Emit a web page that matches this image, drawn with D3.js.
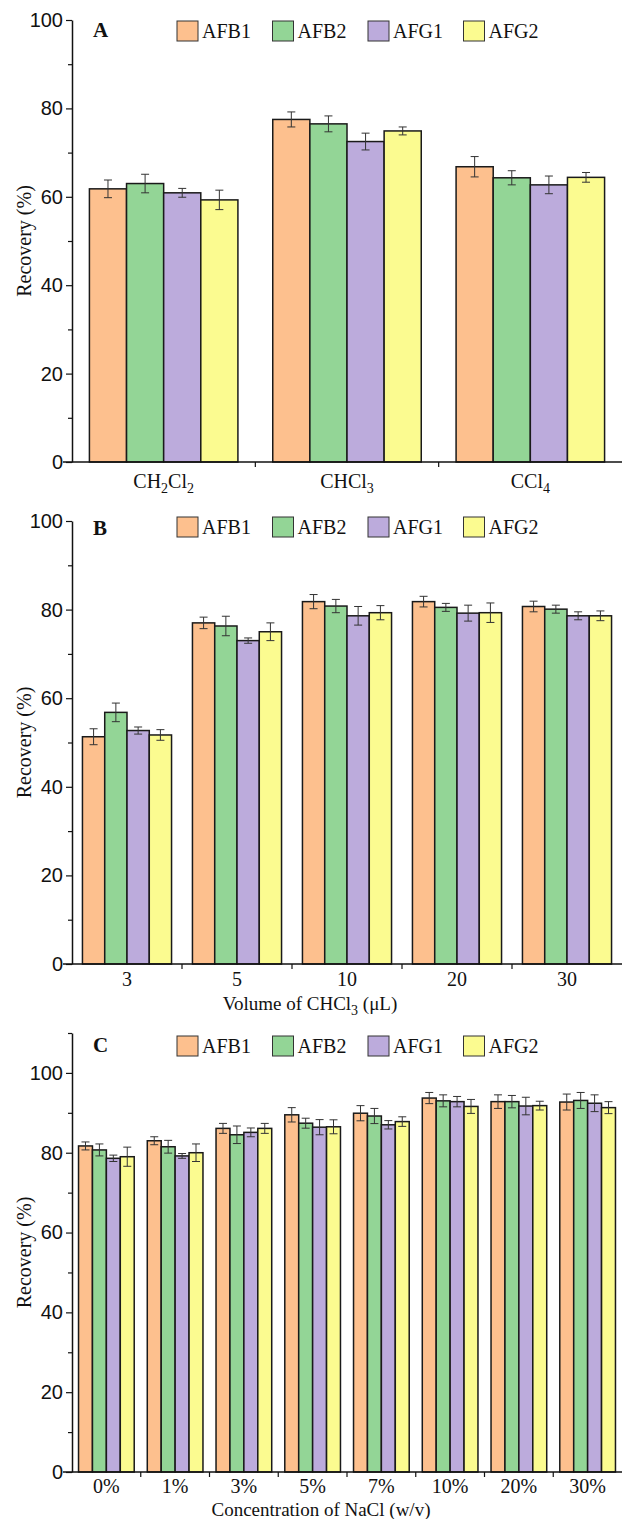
<!DOCTYPE html>
<html>
<head>
<meta charset="utf-8">
<script src="https://cdn.jsdelivr.net/npm/d3@7"></script>
<style>
  body { margin: 0; background: #fff; }
  svg { display: block; font-family: 'Liberation Serif', 'Times New Roman', serif; }
</style>
</head>
<body>
<svg id="chart" width="622" height="1519"></svg>
<script>
/* global d3 */
const series = ['AFB1', 'AFB2', 'AFG1', 'AFG2']
const colors = ['#fdc08e', '#93d596', '#bcabdc', '#fbfb90']

// Panel A: extraction solvent
const solvents = ['CH2Cl2', 'CHCl3', 'CCl4']
const solventMeans = [
  [61.8, 77.5, 66.8],
  [63.0, 76.5, 64.3],
  [60.9, 72.5, 62.7],
  [59.3, 74.9, 64.4]
]
const solventErrors = [
  [2.0, 1.7, 2.3],
  [2.1, 1.8, 1.6],
  [1.0, 1.9, 2.0],
  [2.2, 0.9, 1.1]
]

// Panel B: volume of CHCl3
const volumes = ['3', '5', '10', '20', '30']
const volumeMeans = [
  [51.3, 77.0, 81.8, 81.8, 80.7],
  [56.8, 76.3, 80.8, 80.5, 80.1],
  [52.7, 73.0, 78.6, 79.2, 78.6],
  [51.7, 75.0, 79.3, 79.3, 78.6]
]
const volumeErrors = [
  [1.8, 1.3, 1.6, 1.2, 1.2],
  [2.1, 2.2, 1.5, 0.9, 0.9],
  [0.8, 0.6, 2.1, 1.8, 0.9],
  [1.2, 2.0, 1.6, 2.2, 1.1]
]

// Panel C: NaCl concentration
const salts = ['0%', '1%', '3%', '5%', '7%', '10%', '20%', '30%']
const saltMeans = [
  [81.7, 83.0, 86.1, 89.5, 89.9, 93.7, 92.8, 92.7],
  [80.7, 81.5, 84.5, 87.4, 89.2, 93.0, 92.8, 93.1],
  [78.6, 79.2, 85.1, 86.4, 87.0, 92.8, 91.7, 92.4],
  [79.0, 80.0, 86.1, 86.5, 87.8, 91.6, 91.8, 91.3]
]
const saltErrors = [
  [1.0, 1.0, 1.25, 1.8, 1.9, 1.4, 1.7, 2.0],
  [1.5, 1.6, 2.2, 1.25, 1.9, 1.5, 1.55, 2.0],
  [0.8, 0.6, 1.1, 1.9, 1.05, 1.3, 2.2, 2.1],
  [2.4, 2.2, 1.25, 1.75, 1.2, 1.75, 1.1, 1.5]
]

const svg = d3.select('#chart')
const left = 72
const right = 622

// write a label, putting digits of a formula into subscripts
function formula (sel, str, chem) {
  sel.text(null)
  if (!chem) { sel.text(str); return }
  const parts = str.match(/\d+|[^\d]+/g)
  let sub = false
  parts.forEach(p => {
    const isNum = /^\d+$/.test(p)
    const t = sel.append('tspan').text(p)
    if (isNum && !sub) { t.attr('dy', 5).style('font-size', '14px'); sub = true } else if (!isNum && sub) { t.attr('dy', -5); sub = false }
  })
}

function drawPanel (p) {
  const g = svg.append('g')
  const y = d3.scaleLinear().domain([0, p.max]).range([p.bottom, p.top])
  const x0 = d3.scaleBand().domain(p.cats).range([left, right]).padding(0)
  const pad = x0.bandwidth() * 0.095
  const x1 = d3.scaleBand().domain(series).range([pad, x0.bandwidth() - pad]).padding(0)

  // bars
  series.forEach((s, si) => {
    const grp = g.append('g')
    const rows = p.cats.map((c, ci) => ({ c, v: p.means[si][ci], e: p.errs[si][ci] }))
    grp.selectAll('rect')
      .data(rows)
      .join('rect')
      .attr('x', d => x0(d.c) + x1(s))
      .attr('y', d => y(d.v))
      .attr('width', x1.bandwidth())
      .attr('height', d => y(0) - y(d.v))
      .attr('fill', colors[si])
      .attr('stroke', '#1a1a1a')
      .attr('stroke-width', 1.5)

    const eb = grp.selectAll('g.err')
      .data(rows)
      .join('g')
      .attr('class', 'err')
      .attr('stroke', '#333')
      .attr('stroke-width', 1)
    const cx = d => x0(d.c) + x1(s) + x1.bandwidth() / 2
    eb.append('line')
      .attr('x1', cx).attr('x2', cx)
      .attr('y1', d => y(d.v + d.e)).attr('y2', d => y(d.v - d.e))
    eb.append('line')
      .attr('x1', d => cx(d) - 4).attr('x2', d => cx(d) + 4)
      .attr('y1', d => y(d.v + d.e)).attr('y2', d => y(d.v + d.e))
    eb.append('line')
      .attr('x1', d => cx(d) - 4).attr('x2', d => cx(d) + 4)
      .attr('y1', d => y(d.v - d.e)).attr('y2', d => y(d.v - d.e))
  })

  // y axis: minor ticks then major ticks with labels
  g.append('g')
    .attr('transform', `translate(${left},0)`)
    .call(d3.axisLeft(y).tickValues(d3.range(10, p.max + 1, 20)).tickSize(4).tickFormat(''))
    .call(a => a.select('.domain').remove())
    .selectAll('line').attr('stroke', '#111').attr('stroke-width', 1.2)
  g.append('g')
    .attr('transform', `translate(${left},0)`)
    .call(d3.axisLeft(y).tickValues(d3.range(0, 101, 20)).tickSize(6).tickSizeOuter(0).tickPadding(3))
    .call(a => a.select('.domain').attr('stroke', '#111').attr('stroke-width', 1.5))
    .call(a => a.selectAll('line').attr('stroke', '#111').attr('stroke-width', 1.2))
    .call(a => a.selectAll('text').style('font-size', '20px').attr('fill', '#111'))

  // x axis line and group separators
  g.append('line')
    .attr('x1', left - 9).attr('x2', right)
    .attr('y1', y(0)).attr('y2', y(0))
    .attr('stroke', '#111').attr('stroke-width', 1.5)
  g.selectAll('line.sep')
    .data(p.cats.slice(1))
    .join('line')
    .attr('class', 'sep')
    .attr('x1', d => x0(d)).attr('x2', d => x0(d))
    .attr('y1', y(0)).attr('y2', y(0) + 5)
    .attr('stroke', '#111').attr('stroke-width', 1.2)

  g.selectAll('text.cat')
    .data(p.cats)
    .join('text')
    .attr('class', 'cat')
    .attr('x', d => x0(d) + x0.bandwidth() / 2)
    .attr('y', y(0) + p.labelDy)
    .attr('text-anchor', 'middle')
    .style('font-size', '20px')
    .attr('fill', '#111')
    .each(function (d) { formula(d3.select(this), d, p.chem) })

  if (p.title) {
    g.append('text')
      .attr('x', p.titleX)
      .attr('y', p.titleY)
      .attr('text-anchor', 'middle')
      .style('font-size', '19px')
      .attr('fill', '#111')
      .each(function () { formula(d3.select(this), p.title, true) })
  }

  // y title
  g.append('text')
    .attr('transform', `translate(31,${(y(0) + y(p.max)) / 2}) rotate(-90)`)
    .attr('text-anchor', 'middle')
    .style('font-size', '20px')
    .attr('fill', '#111')
    .text('Recovery (%)')

  // panel letter
  g.append('text')
    .attr('x', 93)
    .attr('y', p.top + p.letterDy)
    .style('font-size', '21px')
    .style('font-weight', 'bold')
    .attr('fill', '#111')
    .text(p.letter)

  // legend
  const lg = g.append('g').attr('transform', `translate(177,${p.top + p.legendDy})`)
  const item = lg.selectAll('g').data(series).join('g')
    .attr('transform', (d, i) => `translate(${i * 95.5},0)`)
  item.append('rect')
    .attr('width', 21).attr('height', 20)
    .attr('fill', (d, i) => colors[i])
    .attr('stroke', '#333').attr('stroke-width', 1)
  item.append('text')
    .attr('x', 25).attr('y', 17)
    .style('font-size', '20px')
    .attr('fill', '#111')
    .text(d => d)
}

drawPanel({ letter: 'A', cats: solvents, means: solventMeans, errs: solventErrors, max: 100, top: 20, bottom: 462, chem: true, labelDy: 26, letterDy: 17, legendDy: 1 })
drawPanel({ letter: 'B', cats: volumes, means: volumeMeans, errs: volumeErrors, max: 100, top: 521, bottom: 964, chem: false, labelDy: 22, title: 'Volume of CHCl3 (μL)', titleX: 310, titleY: 1010, letterDy: 14, legendDy: -4 })
drawPanel({ letter: 'C', cats: salts, means: saltMeans, errs: saltErrors, max: 110, top: 1033, bottom: 1472, chem: false, labelDy: 21, title: 'Concentration of NaCl (w/v)', titleX: 321, titleY: 1516, letterDy: 19, legendDy: 3 })
</script>
</body>
</html>
